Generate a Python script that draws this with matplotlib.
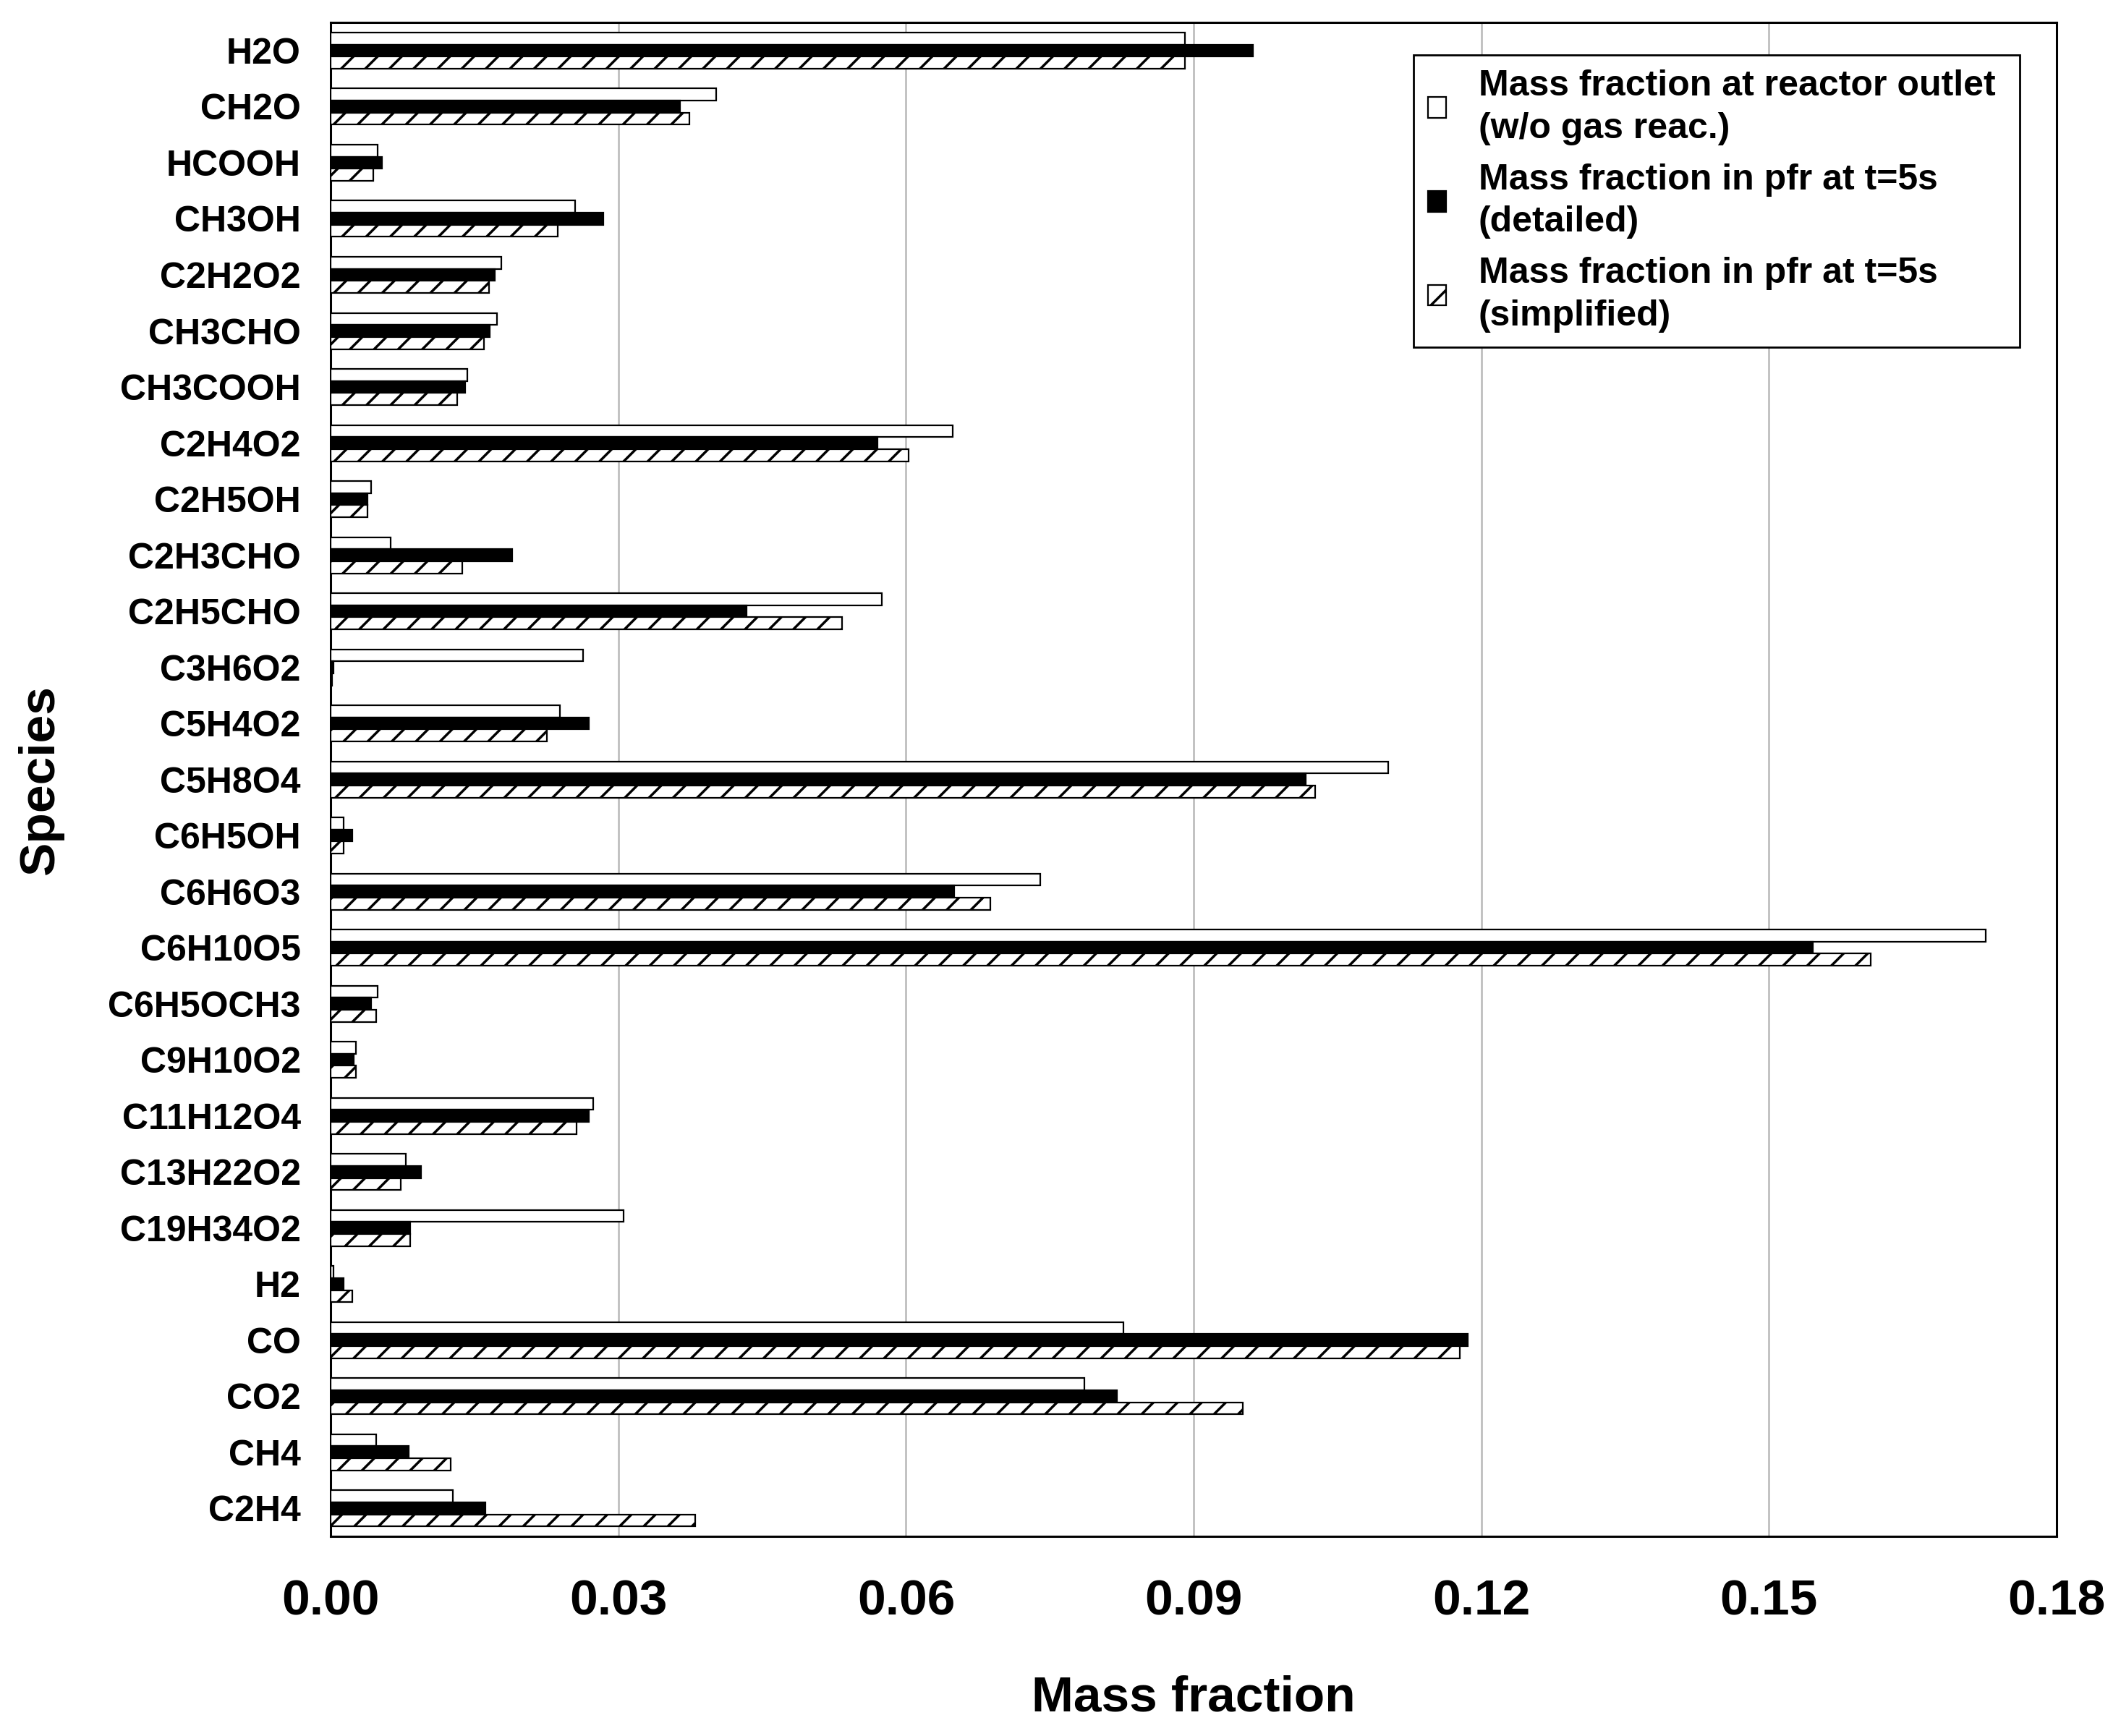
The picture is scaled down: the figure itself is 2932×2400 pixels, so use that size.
import numpy as np
import matplotlib
matplotlib.use("Agg")
import matplotlib.pyplot as plt

plt.rcParams['font.family'] = ['Liberation Sans', 'DejaVu Sans']
plt.rcParams['font.weight'] = 'bold'
plt.rcParams['hatch.linewidth'] = 2.5

# data
species = ['H2O', 'CH2O', 'HCOOH', 'CH3OH', 'C2H2O2', 'CH3CHO', 'CH3COOH', 'C2H4O2',
           'C2H5OH', 'C2H3CHO', 'C2H5CHO', 'C3H6O2', 'C5H4O2', 'C5H8O4', 'C6H5OH',
           'C6H6O3', 'C6H10O5', 'C6H5OCH3', 'C9H10O2', 'C11H12O4', 'C13H22O2',
           'C19H34O2', 'H2', 'CO', 'CO2', 'CH4', 'C2H4']
outlet = [0.0891, 0.0402, 0.0049, 0.0255, 0.0178, 0.0173, 0.0142, 0.0649,
          0.0042, 0.0062, 0.0575, 0.0263, 0.0239, 0.1103, 0.0013,
          0.0740, 0.1726, 0.0049, 0.0026, 0.0274, 0.0078,
          0.0305, 0.0003, 0.0827, 0.0786, 0.0047, 0.0127]
detailed = [0.0962, 0.0364, 0.0053, 0.0284, 0.0171, 0.0166, 0.0140, 0.0570,
            0.0038, 0.0189, 0.0434, 0.0003, 0.0269, 0.1017, 0.0022,
            0.0650, 0.1546, 0.0042, 0.0024, 0.0269, 0.0094,
            0.0083, 0.0013, 0.1186, 0.0820, 0.0081, 0.0161]
simplified = [0.0891, 0.0374, 0.0044, 0.0237, 0.0165, 0.0160, 0.0132, 0.0603,
              0.0038, 0.0137, 0.0533, 0.0001, 0.0225, 0.1027, 0.0013,
              0.0688, 0.1606, 0.0047, 0.0026, 0.0256, 0.0073,
              0.0083, 0.0022, 0.1178, 0.0951, 0.0125, 0.0380]
labels = ['Mass fraction at reactor outlet \n(w/o gas reac.)',
          'Mass fraction in pfr at t=5s\n(detailed)',
          'Mass fraction in pfr at t=5s\n(simplified)']
xticks = [0.00, 0.03, 0.06, 0.09, 0.12, 0.15, 0.18]

fig = plt.figure(figsize=(29.32, 24), dpi=100)
ax = fig.add_axes([0.156, 0.115, 0.8135, 0.872])

y = np.arange(len(species))
h = 0.215
ax.barh(y - h, outlet, h, color='white', edgecolor='black', linewidth=1.6, label=labels[0], zorder=3)
ax.barh(y, detailed, h, color='black', edgecolor='black', linewidth=1.6, label=labels[1], zorder=3)
ax.barh(y + h, simplified, h, color='white', edgecolor='black', linewidth=1.6,
        hatch='/', label=labels[2], zorder=3)

ax.set_ylim(len(species) - 0.5, -0.5)
ax.set_yticks(y)
ax.set_yticklabels(species, fontsize=36, fontweight='bold')
ax.set_xlim(0, 0.18)
ax.set_xticks(xticks)
ax.set_xticklabels(['%.2f' % v for v in xticks], fontsize=50, fontweight='bold')
ax.tick_params(axis='y', length=0, pad=30)
ax.tick_params(axis='x', length=0, pad=42)
ax.grid(axis='x', color='#BFBFBF', linewidth=2, zorder=0)
for s in ax.spines.values():
    s.set_linewidth(2.2)
    s.set_color('black')

ax.set_xlabel('Mass fraction', fontsize=50, fontweight='bold', labelpad=50)
ax.set_ylabel('Species', fontsize=50, fontweight='bold', labelpad=44)

leg = ax.legend(loc='upper right', bbox_to_anchor=(0.979, 0.9785), borderaxespad=0,
                fontsize=36, frameon=True, fancybox=False, edgecolor='black',
                framealpha=1, handlelength=0.5, handleheight=0.5, handletextpad=0.9,
                labelspacing=0.5, borderpad=0.4)
leg.get_frame().set_linewidth(2)
for t in leg.get_texts():
    t.set_linespacing(1.35)

plt.savefig('out.png', dpi=100)
